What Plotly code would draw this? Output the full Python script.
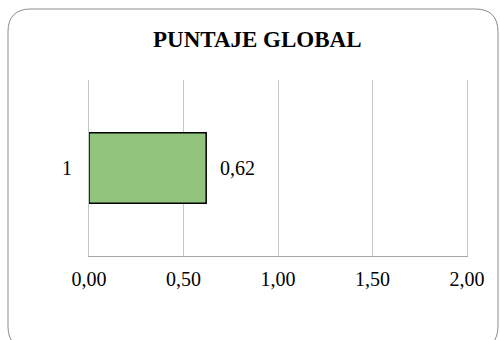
import plotly.graph_objects as go

# Chart data
categories = ["1"]
scores = [0.62]
tick_values = [0.0, 0.5, 1.0, 1.5, 2.0]
title_text = "PUNTAJE GLOBAL"

W, H = 500, 340
ML, MR, MT, MB = 89, 33, 80, 84
PW, PH = W - ML - MR, H - MT - MB

def px_to_paper(x, y):
    return (x - ML) / PW, (H - MB - y) / PH

def rounded_rect(x0, y0, x1, y1, r):
    def P(x, y):
        px, py = px_to_paper(x, y)
        return f"{px:.5f},{py:.5f}"
    path = f"M {P(x0 + r, y0)} L {P(x1 - r, y0)} Q {P(x1, y0)} {P(x1, y0 + r)} "
    path += f"L {P(x1, y1 - r)} Q {P(x1, y1)} {P(x1 - r, y1)} "
    path += f"L {P(x0 + r, y1)} Q {P(x0, y1)} {P(x0, y1 - r)} "
    path += f"L {P(x0, y0 + r)} Q {P(x0, y0)} {P(x0 + r, y0)} Z"
    return path

def fmt(v):
    return f"{v:.2f}".replace(".", ",")

serif = "Liberation Serif"
grid = "#c6c6c6"

fig = go.Figure()
fig.add_trace(go.Bar(
    y=categories, x=scores, orientation="h", width=0.4,
    marker=dict(color="#93C47D", line=dict(color="#000000", width=1.5)),
    hoverinfo="skip",
))

# value labels to the right of each bar (y given as category index)
for i, v in enumerate(scores):
    fig.add_annotation(x=v, y=i, text=fmt(v), showarrow=False,
                       xanchor="left", xshift=12,
                       font=dict(family=serif, size=20, color="#000000"))

# chart title
tx, ty = px_to_paper(257, 39)
fig.add_annotation(x=tx, y=ty, xref="paper", yref="paper", text=title_text,
                   showarrow=False, xanchor="center", yanchor="middle",
                   font=dict(family=serif, size=23, color="#000000", weight=700))

# rounded frame around the chart
fig.add_shape(type="path", xref="paper", yref="paper",
              path=rounded_rect(8, 9, 498, 349, 23),
              line=dict(color="#8c8c8c", width=1), layer="below")

fig.update_layout(
    width=W, height=H,
    margin=dict(l=ML, r=MR, t=MT, b=MB),
    paper_bgcolor="white", plot_bgcolor="white",
    separators=",.",
    showlegend=False,
    xaxis=dict(range=[0, 2], tickvals=tick_values, tickformat=".2f",
               showgrid=True, gridcolor=grid, gridwidth=1,
               zeroline=False, showline=True, linecolor="#a6a6a6", linewidth=1,
               ticks="", ticklabelstandoff=5,
               tickfont=dict(family=serif, size=20, color="#000000")),
    yaxis=dict(type="category", range=[-0.5, 0.5], showgrid=False,
               zeroline=False, showline=True, mirror=True, linecolor=grid,
               linewidth=1, ticks="", ticklabelstandoff=12,
               tickfont=dict(family=serif, size=20, color="#000000")),
)

fig.write_html("out.html")
